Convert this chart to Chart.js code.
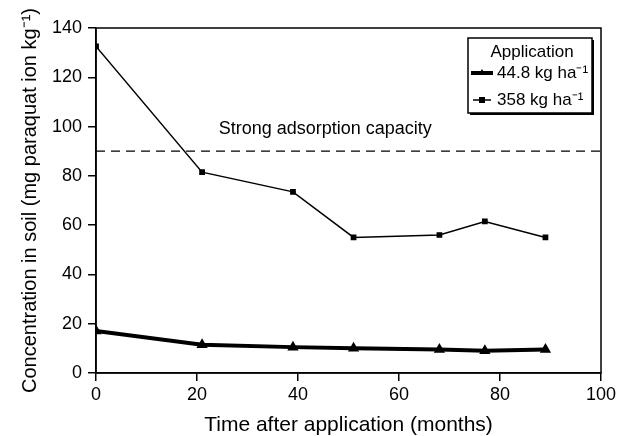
<!DOCTYPE html>
<html>
<head>
<meta charset="utf-8">
<script src="https://cdn.jsdelivr.net/npm/chart.js@4.4.0/dist/chart.umd.min.js"></script>
<style>
  html, body { margin: 0; padding: 0; background: #fff; }
  #wrap { width: 617px; height: 436px; position: relative; }
</style>
</head>
<body>
<div id="wrap"><canvas id="chart" width="617" height="436"></canvas></div>
<script>
// ---- data ----
const monthsLow = [0, 21, 39, 51, 68, 77, 89];
const concLow = [17, 11.5, 10.5, 10, 9.5, 9, 9.5];        // 44.8 kg ha-1
const monthsHigh = [0, 21, 39, 51, 68, 77, 89];
const concHigh = [132.5, 81.5, 73.5, 55, 56, 61.5, 55];   // 358 kg ha-1
const capacityLevel = 90;
const capacityLabel = 'Strong adsorption capacity';
const xTicks = [0, 20, 40, 60, 80, 100];
const yTicks = [0, 20, 40, 60, 80, 100, 120, 140];
const legendTitle = 'Application';
const legendLabels = ['44.8 kg ha\u207B\u00B9', '358 kg ha\u207B\u00B9'];

const FONT = '"Liberation Sans", Arial, Helvetica, sans-serif';

const toPts = (xs, ys) => xs.map((x, i) => ({ x: x, y: ys[i] }));

// frame, annotation text and boxed legend
const extras = {
    id: 'extras',
    afterDatasetsDraw(chart) {
        const ctx = chart.ctx;
        const a = chart.chartArea;
        const xs = chart.scales.x, ys = chart.scales.y;
        ctx.save();
        ctx.strokeStyle = '#000';
        ctx.lineWidth = 1.5;
        ctx.strokeRect(a.left, a.top, a.right - a.left, a.bottom - a.top);

        ctx.fillStyle = '#000';
        ctx.font = '18px ' + FONT;
        ctx.textAlign = 'center';
        ctx.textBaseline = 'middle';
        ctx.fillText(capacityLabel, xs.getPixelForValue(45.4), ys.getPixelForValue(capacityLevel) - 22);

        // legend box with a small drop shadow
        const bx = 468, by = 38, bw = 124, bh = 75;
        ctx.fillStyle = '#000';
        ctx.fillRect(bx + 2, by + 2, bw, bh);
        ctx.fillStyle = '#fff';
        ctx.fillRect(bx, by, bw, bh);
        ctx.lineWidth = 1.5;
        ctx.strokeRect(bx, by, bw, bh);

        ctx.fillStyle = '#000';
        ctx.font = '17px ' + FONT;
        ctx.textAlign = 'center';
        ctx.textBaseline = 'middle';
        ctx.fillText(legendTitle, bx + bw / 2 + 2, by + 14);

        ctx.textAlign = 'left';
        const rows = [by + 35, by + 62];
        // 44.8 row: thick line with triangle
        ctx.lineWidth = 4;
        ctx.beginPath(); ctx.moveTo(bx + 3, rows[0]); ctx.lineTo(bx + 25, rows[0]); ctx.stroke();
        ctx.beginPath();
        ctx.moveTo(bx + 14, rows[0] - 4); ctx.lineTo(bx + 17, rows[0] + 1); ctx.lineTo(bx + 11, rows[0] + 1);
        ctx.closePath(); ctx.fill();
        // 358 row: thin line with square
        ctx.lineWidth = 1.5;
        ctx.beginPath(); ctx.moveTo(bx + 5, rows[1]); ctx.lineTo(bx + 23, rows[1]); ctx.stroke();
        ctx.fillRect(bx + 11, rows[1] - 3, 6, 6);

        ctx.fillText(legendLabels[0], bx + 29, rows[0]);
        ctx.fillText(legendLabels[1], bx + 29, rows[1]);
        ctx.restore();
    }
};

new Chart(document.getElementById('chart'), {
    type: 'line',
    data: {
        datasets: [
            {
                label: legendLabels[0],
                data: toPts(monthsLow, concLow),
                borderColor: '#000',
                backgroundColor: '#000',
                borderWidth: 4,
                pointStyle: 'triangle',
                pointRadius: 2.5,
                tension: 0
            },
            {
                label: legendLabels[1],
                data: toPts(monthsHigh, concHigh),
                borderColor: '#000',
                backgroundColor: '#000',
                borderWidth: 1.5,
                pointStyle: 'rect',
                pointRadius: 3,
                tension: 0
            },
            {
                label: capacityLabel,
                data: [{ x: xTicks[0], y: capacityLevel }, { x: xTicks[xTicks.length - 1], y: capacityLevel }],
                borderColor: '#000',
                borderWidth: 1.3,
                borderDash: [9, 6],
                pointRadius: 0
            }
        ]
    },
    options: {
        responsive: false,
        animation: false,
        layout: { padding: { top: 28, right: 16, left: 18, bottom: 0 } },
        plugins: { legend: { display: false }, tooltip: { enabled: false } },
        scales: {
            x: {
                type: 'linear',
                min: 0, max: 100,
                afterBuildTicks: s => { s.ticks = xTicks.map(v => ({ value: v })); },
                // let the "100" label hang past the frame like the original
                afterFit: s => { s.paddingRight = 0; },
                grid: { drawOnChartArea: false, drawTicks: true, tickLength: 8, color: '#000', lineWidth: 1.5 },
                border: { display: true, color: '#000', width: 1.5 },
                ticks: { color: '#000', font: { family: FONT, size: 18, lineHeight: 1 }, padding: 5, maxRotation: 0 },
                title: { display: true, text: 'Time after application (months)', color: '#000',
                         font: { family: FONT, size: 21, lineHeight: 1 }, padding: { top: 6, bottom: 0 } }
            },
            y: {
                type: 'linear',
                min: 0, max: 140,
                afterBuildTicks: s => { s.ticks = yTicks.map(v => ({ value: v })); },
                grid: { drawOnChartArea: false, drawTicks: true, tickLength: 8, color: '#000', lineWidth: 1.5 },
                border: { display: true, color: '#000', width: 1.5 },
                ticks: { color: '#000', font: { family: FONT, size: 18 }, padding: 6 },
                title: { display: true, text: 'Concentration in soil (mg paraquat ion kg\u207B\u00B9)', color: '#000',
                         font: { family: FONT, size: 20 }, padding: { top: 0, bottom: 4 } }
            }
        }
    },
    plugins: [extras]
});
</script>
</body>
</html>
